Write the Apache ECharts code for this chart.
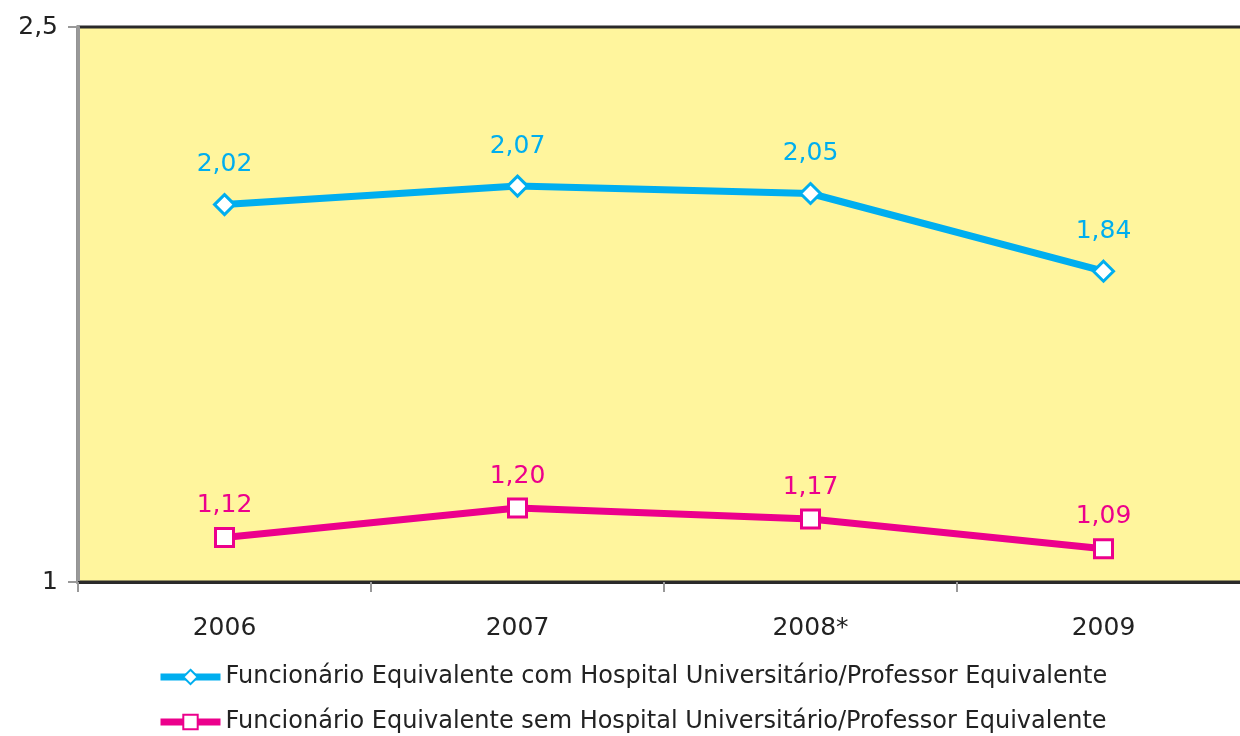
<!DOCTYPE html>
<html>
<head>
<meta charset="utf-8">
<script src="https://cdn.jsdelivr.net/npm/echarts@6/dist/echarts.min.js"></script>
<style>
  html, body { margin: 0; padding: 0; background: #fff; overflow: hidden; }
  /* plot runs a little past the right edge, as in the original */
  #chart { width: 1250px; height: 736px; }
</style>
</head>
<body>
<div id="chart"></div>
<script>
// data
const years = ['2006', '2007', '2008*', '2009'];
const comHU = [2.02, 2.07, 2.05, 1.84];
const semHU = [1.12, 1.20, 1.17, 1.09];
const nameCom = 'Funcionário Equivalente com Hospital Universitário/Professor Equivalente';
const nameSem = 'Funcionário Equivalente sem Hospital Universitário/Professor Equivalente';

const blue = '#00AEEF';
const pink = '#EC008C';
const font = 'DejaVu Sans';

// 2,05 style numbers
function virgula(v) {
  return String(v).replace('.', ',');
}

const chart = echarts.init(document.getElementById('chart'));

function lineSeries(name, data, color, symbol, dist) {
  return {
    name: name,
    type: 'line',
    data: data,
    symbol: symbol,
    symbolSize: symbol === 'diamond' ? 20 : 18,
    showAllSymbol: true,
    lineStyle: { color: color, width: 7 },
    itemStyle: { color: '#fff', borderColor: color, borderWidth: 3 },
    label: {
      show: true,
      position: 'top',
      distance: dist,
      color: color,
      fontFamily: font,
      fontSize: 25,
      formatter: p => virgula(p.value.toFixed(2))
    },
    emphasis: { disabled: true },
    animation: false
  };
}

const option = {
  backgroundColor: '#ffffff',
  textStyle: { fontFamily: font },
  grid: {
    left: 78,
    top: 27,
    right: 0,
    bottom: 154,
    show: true,
    backgroundColor: '#FFF59D',
    borderColor: '#2a2a2a',
    borderWidth: 3
  },
  xAxis: {
    type: 'category',
    data: years,
    boundaryGap: true,
    axisLine: { show: true, lineStyle: { color: '#2a2a2a', width: 3 } },
    axisTick: { show: true, length: 10, lineStyle: { color: '#999', width: 2 } },
    axisLabel: { color: '#222', fontSize: 25, fontFamily: font, margin: 34 }
  },
  yAxis: {
    type: 'value',
    min: 1,
    max: 2.5,
    interval: 1.5,
    axisLine: { show: true, lineStyle: { color: '#999', width: 3 } },
    axisTick: { show: true, length: 10, lineStyle: { color: '#999', width: 2 } },
    splitLine: { show: false },
    axisLabel: {
      color: '#222',
      fontSize: 25,
      fontFamily: font,
      margin: 20,
      formatter: v => virgula(v)
    }
  },
  legend: {
    orient: 'vertical',
    left: 157,
    top: 665,
    padding: 0,
    itemWidth: 60,
    itemHeight: 18,
    itemGap: 21,
    lineStyle: { width: 7 },
    textStyle: { color: '#222', fontSize: 24, fontFamily: font },
    data: [nameCom, nameSem]
  },
  series: [
    lineSeries(nameCom, comHU, blue, 'diamond', 16),
    lineSeries(nameSem, semHU, pink, 'rect', 9)
  ]
};

chart.setOption(option);
</script>
</body>
</html>
